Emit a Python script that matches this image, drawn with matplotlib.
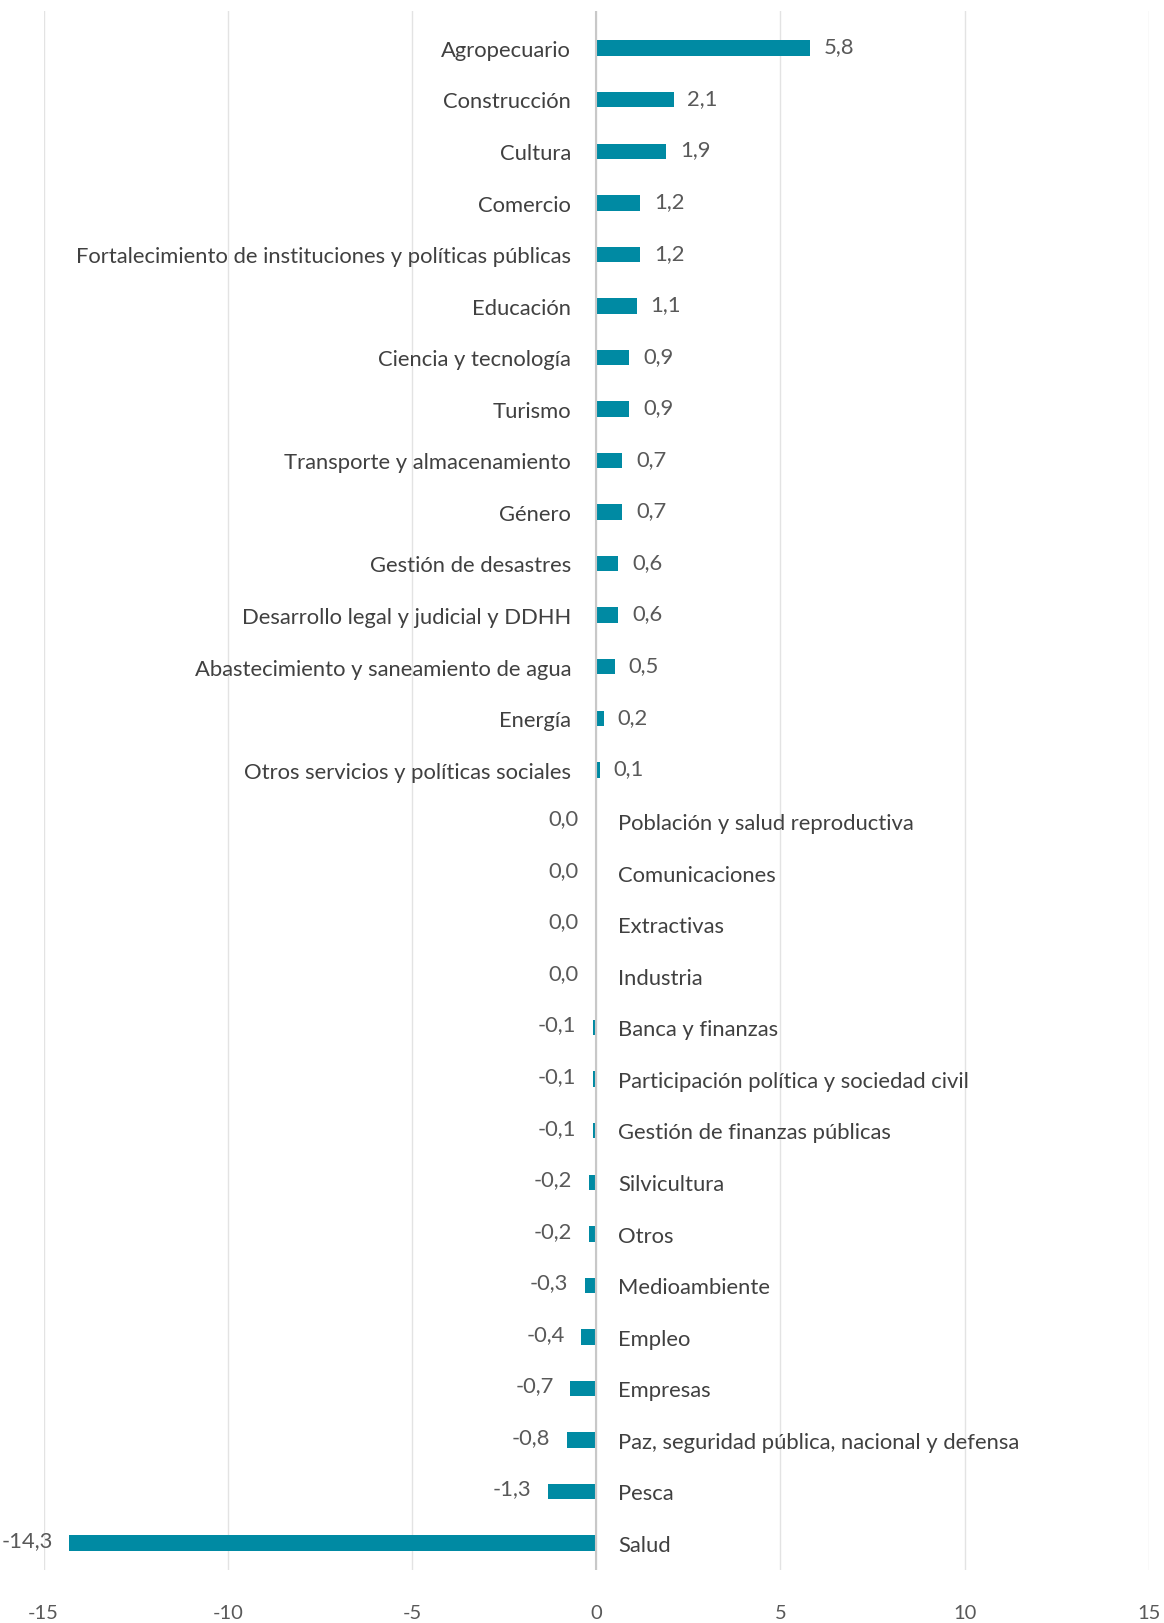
import matplotlib
matplotlib.use("Agg")
import matplotlib.pyplot as plt

# sectors, top to bottom
categories = [
    "Agropecuario", "Construcción", "Cultura", "Comercio",
    "Fortalecimiento de instituciones y políticas públicas", "Educación",
    "Ciencia y tecnología", "Turismo", "Transporte y almacenamiento", "Género",
    "Gestión de desastres", "Desarrollo legal y judicial y DDHH",
    "Abastecimiento y saneamiento de agua", "Energía",
    "Otros servicios y políticas sociales", "Población y salud reproductiva",
    "Comunicaciones", "Extractivas", "Industria", "Banca y finanzas",
    "Participación política y sociedad civil", "Gestión de finanzas públicas",
    "Silvicultura", "Otros", "Medioambiente", "Empleo", "Empresas",
    "Paz, seguridad pública, nacional y defensa", "Pesca", "Salud",
]
values = [
    5.8, 2.1, 1.9, 1.2, 1.2, 1.1, 0.9, 0.9, 0.7, 0.7,
    0.6, 0.6, 0.5, 0.2, 0.1, -0.02, -0.02, -0.02, -0.02, -0.1,
    -0.1, -0.1, -0.2, -0.2, -0.3, -0.4, -0.7, -0.8, -1.3, -14.3,
]
xticks = [-15, -10, -5, 0, 5, 10, 15]

BAR = "#008aa3"
TEXT = "#404040"
VAL = "#595959"

plt.rcParams["font.family"] = ["Lato", "DejaVu Sans"]

fig = plt.figure(figsize=(11.64, 16.23), dpi=100)
ax = fig.add_axes([0.0374, 0.0327, 0.9496, 0.9605])

ypos = list(range(len(categories)))
ax.barh(ypos, values, height=0.3, color=BAR, zorder=3)

ax.set_xlim(-15, 15)
ax.set_ylim(29.52, -0.72)
ax.set_xticks(xticks)
ax.set_xticklabels([str(t) for t in xticks], color=VAL, fontsize=14.5)
ax.tick_params(axis="x", length=0, pad=25)
ax.set_yticks([])

for s in ax.spines.values():
    s.set_visible(False)
ax.grid(axis="x", color="#e3e3e3", linewidth=1, zorder=0)
ax.axvline(0, color="#c8c8c8", linewidth=1.5, zorder=4)


def fmt(v):
    s = f"{v:.1f}"
    if s == "-0.0":
        s = "0.0"
    return s.replace(".", ",")


FS = 15.8
for y, (cat, v) in enumerate(zip(categories, values)):
    if v > 0:
        ax.annotate(cat, (0, y), xytext=(-18, -2), textcoords="offset points",
                    ha="right", va="center", fontsize=FS, color=TEXT)
        ax.annotate(fmt(v), (v, y), xytext=(10, 0.5), textcoords="offset points",
                    ha="left", va="center", fontsize=FS, color=VAL)
    else:
        ax.annotate(cat, (0, y), xytext=(16, -2), textcoords="offset points",
                    ha="left", va="center", fontsize=FS, color=TEXT)
        ax.annotate(fmt(v), (v, y), xytext=(-12, 1.5), textcoords="offset points",
                    ha="right", va="center", fontsize=FS, color=VAL)

fig.savefig("out.png", dpi=100)
